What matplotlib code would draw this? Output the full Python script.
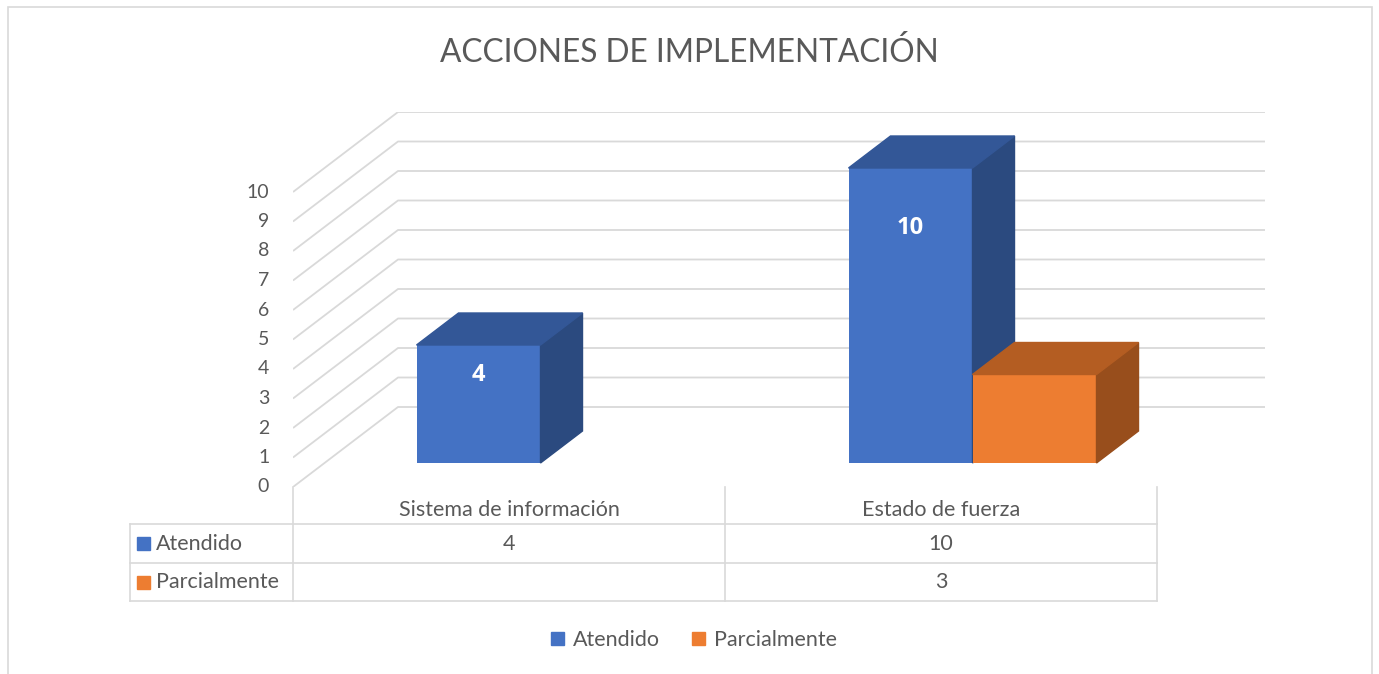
import matplotlib.pyplot as plt
import numpy as np
from matplotlib.patches import Polygon, Rectangle, Patch
from matplotlib.transforms import blended_transform_factory

# Donnees
categories = ['Sistema de información', 'Estado de fuerza']
series = ['Atendido', 'Parcialmente']
atendido = [4, 10]
parcialmente = [None, 3]
valeurs = [atendido, parcialmente]
yticks = list(range(0, 11))

# Couleurs (face, dessus, cote)
couleurs = [('#4472C4', '#335797', '#2B4A7F'),
            ('#ED7D31', '#B45D22', '#984E1C')]
gris = '#D9D9D9'
texte = '#595959'
police = ['Lato', 'DejaVu Sans']
taille = 15.5

W, H = 1379, 674
fig = plt.figure(figsize=(W/100, H/100), dpi=100)
plt.rcParams['font.family'] = police

def fx(px):
    return px / W

def fy(py):
    return 1 - py / H

# Cadre exterieur
fig.patches.append(Rectangle((fx(8), fy(700)), fx(1364), 693/H,
                             transform=fig.transFigure, fill=False,
                             edgecolor=gris, lw=1.2))

# Axe principal (plan avant)
ax = fig.add_axes([fx(293), fy(487), fx(972), 375/H])
ax.set_xlim(-0.5, -0.5 + 972/432)
ax.set_ylim(0, 375/29.5)
ax.axis('off')

# Profondeur oblique
DX = 105/432
DY = 80/29.5
xmax = ax.get_xlim()[1]

# Grille (murs)
for k in yticks:
    ax.plot([-0.5, -0.5 + DX, xmax], [k, k + DY, k + DY], color=gris, lw=1.3,
            zorder=1, solid_capstyle='butt')
    ax.text(-0.5 - 0.055, k, str(k), ha='right', va='center', fontsize=14,
            color=texte)

# Barres 3D
larg = 124/432
d0, d1 = 0.3, 0.4
x = np.arange(len(categories))
for s in range(len(series)):
    v = np.array([np.nan if a is None else a for a in valeurs[s]], dtype=float)
    xc = x - larg/2 + s*larg + d0*DX
    bas = d0*DY
    ax.bar(xc, v, width=larg, bottom=bas, color=couleurs[s][0], zorder=2 + s)
    for i in range(len(x)):
        if np.isnan(v[i]):
            continue
        xl, xr = xc[i] - larg/2, xc[i] + larg/2
        haut = bas + v[i]
        ax.add_patch(Polygon([(xr, bas), (xr + d1*DX, bas + d1*DY),
                              (xr + d1*DX, haut + d1*DY), (xr, haut)],
                             closed=True, color=couleurs[s][2], zorder=2 + s))
        ax.add_patch(Polygon([(xl, haut), (xr, haut),
                              (xr + d1*DX, haut + d1*DY), (xl + d1*DX, haut + d1*DY)],
                             closed=True, color=couleurs[s][1], zorder=2 + s))
        if s == 0:
            ax.text(xc[i], bas + 0.83*v[i] - 0.35, str(int(v[i])), ha='center',
                    va='center', color='white', fontsize=17, fontweight='bold',
                    family=['Open Sans', 'DejaVu Sans'], zorder=5)

# Titre
fig.text(fx(689), fy(52), 'ACCIONES DE IMPLEMENTACIÓN', ha='center',
         va='center', fontsize=22.8, color=texte)

# Tableau de donnees
tr = blended_transform_factory(ax.transData, fig.transFigure)
xg = -0.5 - 163/432
bords = [-0.5, 0.5, 1.5]
lignes = [524, 563, 601]
for b in bords:
    fig.add_artist(plt.Line2D([b, b], [fy(487), fy(601)], transform=tr,
                              color=gris, lw=1.2))
fig.add_artist(plt.Line2D([xg, xg], [fy(524), fy(601)], transform=tr,
                          color=gris, lw=1.2))
for l in lignes:
    fig.add_artist(plt.Line2D([xg, 1.5], [fy(l), fy(l)], transform=tr,
                              color=gris, lw=1.2))
for i, c in enumerate(categories):
    fig.text(x[i], fy(510), c, transform=tr, ha='center', va='center',
             fontsize=taille, color=texte)
for s in range(len(series)):
    yr = (lignes[s] + lignes[s+1]) / 2
    fig.patches.append(Rectangle((fx(137), fy(yr + 6.5)), fx(13), 13/H,
                                 transform=fig.transFigure,
                                 color=couleurs[s][0]))
    fig.text(fx(156), fy(yr), series[s], ha='left', va='center',
             fontsize=taille, color=texte)
    for i in range(len(x)):
        a = valeurs[s][i]
        fig.text(x[i], fy(yr), '' if a is None else str(a), transform=tr,
                 ha='center', va='center', fontsize=taille, color=texte)

# Legende
poignees = [Patch(color=couleurs[s][0]) for s in range(len(series))]
fig.legend(poignees, series, loc='center', bbox_to_anchor=(fx(694), fy(640)),
           ncol=2, frameon=False, fontsize=taille, labelcolor=texte,
           handlelength=0.6, handleheight=0.6, handletextpad=0.4,
           columnspacing=1.5)

fig.savefig('out.png', dpi=100, facecolor='white')
